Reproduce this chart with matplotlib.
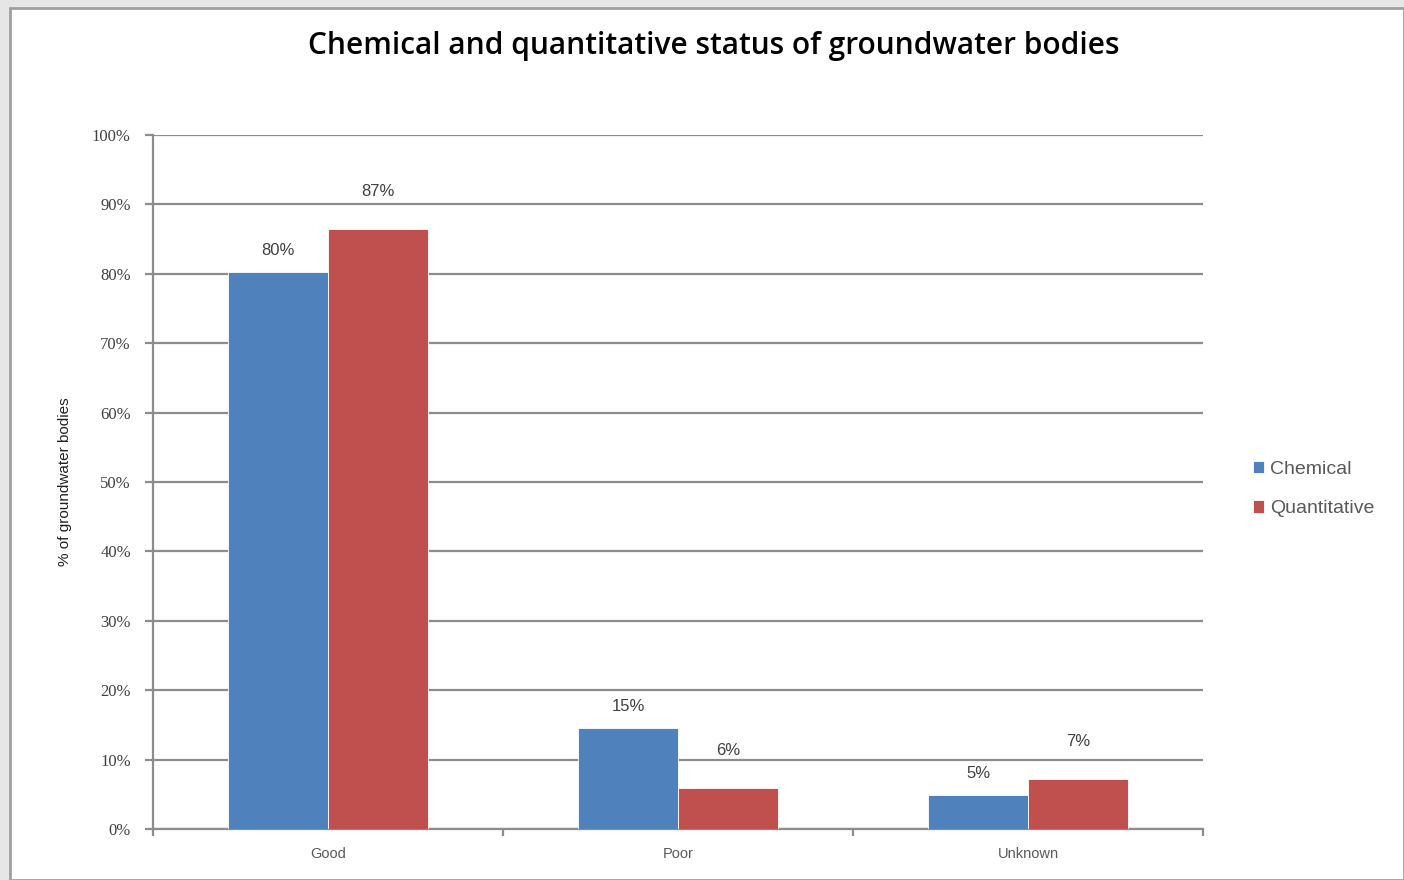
import matplotlib
matplotlib.use("Agg")
import matplotlib.pyplot as plt
from matplotlib.patches import Rectangle
import numpy as np

categories = ["Good", "Poor", "Unknown"]
chemical = [80.3, 14.6, 4.9]
quantitative = [86.5, 5.9, 7.2]
chemical_labels = ["80%", "15%", "5%"]
quantitative_labels = ["87%", "6%", "7%"]
yticks = [0, 10, 20, 30, 40, 50, 60, 70, 80, 90, 100]

W, H = 1404, 880
fig = plt.figure(figsize=(W / 100, H / 100), dpi=100, facecolor="#e6e6e6")

# white panel with darker edge
fig.patches.append(Rectangle((10 / W, 0), 1 - 10 / W, 1 - 8 / H, transform=fig.transFigure,
                             facecolor="white", edgecolor="#a0a0a0", linewidth=2, zorder=-10))

ax = fig.add_axes([153 / W, 1 - 829 / H, (1203 - 153) / W, (829 - 135) / H])
ax.set_facecolor("white")

x = np.arange(len(categories))
bw = 0.285
blue = "#4f81bd"
red = "#c0504d"
b1 = ax.bar(x - bw / 2, chemical, bw, color=blue, edgecolor="white", linewidth=0.6, label="Chemical", zorder=3)
b2 = ax.bar(x + bw / 2, quantitative, bw, color=red, edgecolor="white", linewidth=0.6, label="Quantitative", zorder=3)

for rect, lab in zip(b1, chemical_labels):
    ax.text(rect.get_x() + rect.get_width() / 2, rect.get_height() + 2.0, lab,
            ha="center", va="bottom", fontsize=12, color="#404040", family="Liberation Sans")
for rect, lab in zip(b2, quantitative_labels):
    ax.text(rect.get_x() + rect.get_width() / 2, rect.get_height() + 4.3, lab,
            ha="center", va="bottom", fontsize=12, color="#404040", family="Liberation Sans")

ax.set_xlim(-0.5, 2.5)
ax.set_ylim(0, 100)
ax.set_yticks(yticks)
ax.set_yticklabels([f"{v}%" for v in yticks], fontsize=12, color="#404040", family="Liberation Serif")
ax.yaxis.grid(True, color="#8c8c8c", linewidth=1.6, zorder=0)
ax.set_axisbelow(True)

ax.set_xticks(x)
ax.set_xticklabels(categories, fontsize=10.5, color="#595959", family="Liberation Sans")
ax.set_xticks([-0.5, 0.5, 1.5, 2.5], minor=True)
ax.tick_params(axis="x", which="major", length=0, pad=13)
ax.tick_params(axis="x", which="minor", length=5, width=1.6, color="#8c8c8c", direction="out")
ax.tick_params(axis="y", length=6, width=1.6, color="#8c8c8c", direction="out", pad=10)

for s in ["top", "right"]:
    ax.spines[s].set_visible(False)
for s in ["left", "bottom"]:
    ax.spines[s].set_color("#8c8c8c")
    ax.spines[s].set_linewidth(1.6)

ax.set_ylabel("% of groundwater bodies", fontsize=11, color="#202020", family="Liberation Sans", labelpad=14)

fig.text(714 / W, 1 - 46 / H, "Chemical and quantitative status of groundwater bodies",
         ha="center", va="center", fontsize=21.5, weight="semibold", family="Open Sans", color="#000000")

leg = fig.legend(handles=[b1, b2], loc="center left", bbox_to_anchor=(1235 / W, 1 - 489 / H),
                 frameon=False, handlelength=0.6, handleheight=0.6,
                 handletextpad=0.3, labelspacing=1.15, prop={"family": "Liberation Sans", "size": 14})
for t in leg.get_texts():
    t.set_color("#595959")

fig.savefig("out.png", dpi=100, facecolor=fig.get_facecolor())
